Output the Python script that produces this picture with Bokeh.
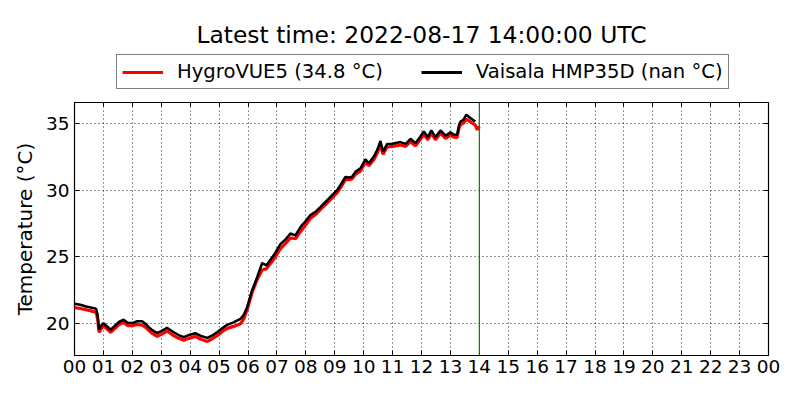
from bokeh.plotting import figure
from bokeh.layouts import column
from bokeh.models import Range1d, FixedTicker, LinearAxis, Span, Legend, LegendItem, Label
from bokeh.embed import file_html
from bokeh.resources import INLINE

# HygroVUE5 (red) - hours since 00 UTC, temperature in degC
hours_red = [0.0, 0.2, 0.4, 0.6, 0.75, 0.8, 0.85, 0.9, 1.0, 1.1, 1.25, 1.4, 1.55, 1.7, 1.85,
             2.0, 2.17, 2.34, 2.45, 2.57, 2.7, 2.86, 3.0, 3.2, 3.3, 3.43, 3.6, 3.78, 3.95,
             4.18, 4.35, 4.59, 4.75, 4.93, 5.1, 5.28, 5.5, 5.74, 5.85, 5.97, 6.14, 6.32,
             6.49, 6.64, 6.89, 7.12, 7.3, 7.47, 7.64, 7.82, 8.0, 8.16, 8.35, 8.51, 8.74,
             9.08, 9.2, 9.37, 9.5, 9.6, 9.72, 9.89, 10.06, 10.18, 10.35, 10.47, 10.58,
             10.67, 10.81, 11.0, 11.27, 11.45, 11.62, 11.79, 11.95, 12.08, 12.22, 12.34,
             12.48, 12.66, 12.83, 13.0, 13.1, 13.23, 13.3, 13.35, 13.45, 13.55, 13.69,
             13.86, 13.93, 14.0]
temp_red = [21.16, 21.1, 21.0, 20.9, 20.8, 20.3, 19.3, 19.5, 19.8, 19.6, 19.3, 19.6, 19.9,
            20.05, 19.8, 19.8, 19.9, 19.85, 19.7, 19.45, 19.2, 19.0, 19.15, 19.4, 19.25,
            19.05, 18.85, 18.7, 18.85, 19.0, 18.8, 18.62, 18.8, 19.05, 19.35, 19.6, 19.75,
            19.95, 20.3, 21.0, 22.3, 23.3, 24.0, 24.1, 24.8, 25.6, 26.0, 26.4, 26.35, 26.9,
            27.4, 27.9, 28.2, 28.55, 29.05, 29.8, 30.2, 30.8, 30.8, 30.85, 31.2, 31.45,
            32.1, 31.85, 32.3, 32.8, 33.4, 32.7, 33.25, 33.3, 33.4, 33.3, 33.65, 33.35,
            33.8, 34.2, 33.8, 34.3, 33.8, 34.3, 33.9, 34.15, 34.0, 33.95, 34.7, 34.95,
            35.05, 35.35, 35.15, 34.9, 34.55, 34.8]

# Vaisala HMP35D (black)
hours_black = [0.0, 0.2, 0.4, 0.6, 0.75, 0.8, 0.85, 0.9, 1.0, 1.1, 1.25, 1.4, 1.55, 1.7,
               1.85, 2.0, 2.17, 2.34, 2.45, 2.57, 2.7, 2.86, 3.0, 3.2, 3.3, 3.43, 3.6, 3.78,
               3.95, 4.18, 4.35, 4.59, 4.75, 4.93, 5.1, 5.28, 5.5, 5.74, 5.85, 5.97, 6.14,
               6.32, 6.49, 6.64, 6.89, 7.12, 7.3, 7.47, 7.64, 7.82, 8.0, 8.16, 8.35, 8.51,
               8.74, 9.08, 9.2, 9.37, 9.5, 9.6, 9.72, 9.89, 10.06, 10.18, 10.35, 10.47,
               10.58, 10.67, 10.81, 11.0, 11.27, 11.45, 11.62, 11.79, 11.95, 12.08, 12.22,
               12.34, 12.48, 12.66, 12.83, 13.0, 13.1, 13.23, 13.3, 13.35, 13.45, 13.55,
               13.69, 13.86]
temp_black = [21.46, 21.38, 21.25, 21.15, 21.08, 20.6, 19.5, 19.75, 20.0, 19.8, 19.5, 19.8,
              20.1, 20.25, 20.0, 20.0, 20.14, 20.14, 19.95, 19.7, 19.45, 19.24, 19.4, 19.64,
              19.5, 19.31, 19.1, 18.94, 19.1, 19.24, 19.05, 18.89, 19.05, 19.31, 19.6,
              19.87, 20.05, 20.32, 20.6, 21.2, 22.46, 23.47, 24.52, 24.35, 25.1, 25.94,
              26.3, 26.74, 26.6, 27.24, 27.7, 28.13, 28.4, 28.75, 29.26, 30.0, 30.39, 31.0,
              30.95, 31.02, 31.4, 31.65, 32.33, 32.03, 32.53, 33.04, 33.7, 32.9, 33.47,
              33.5, 33.62, 33.49, 33.87, 33.54, 34.0, 34.42, 34.0, 34.5, 34.0, 34.5, 34.1,
              34.35, 34.2, 34.17, 34.9, 35.17, 35.3, 35.68, 35.43, 35.17]

x_ticks = [0, 1, 2, 3, 4, 5, 6, 7, 8, 9, 10, 11, 12, 13, 14, 15, 16, 17, 18, 19, 20,
           21, 22, 23, 24]
x_tick_labels = ["00", "01", "02", "03", "04", "05", "06", "07", "08", "09", "10", "11",
                 "12", "13", "14", "15", "16", "17", "18", "19", "20", "21", "22", "23",
                 "00"]
y_ticks = [20, 25, 30, 35]
latest_hour = 14
title_text = "Latest time: 2022-08-17 14:00:00 UTC"
label_red = "HygroVUE5 (34.8 °C)"
label_black = "Vaisala HMP35D (nan °C)"

FONT = "DejaVu Sans"
RED = "#ff0000"

# ---------------- header: title + legend (frame aligned with main plot frame) --------
top = figure(width=800, height=94, x_range=Range1d(0, 1), y_range=Range1d(0, 1),
             output_backend="svg", toolbar_location=None, min_border=0)
top.axis.visible = False
top.grid.visible = False
top.outline_line_color = None
top.background_fill_color = "white"
top.border_fill_color = "white"

top.add_layout(Label(x=347, y=60, x_units="screen", y_units="screen", text=title_text,
                     text_font=FONT, text_font_size="23.4px", text_color="black",
                     text_align="center", text_baseline="middle"))

# legend-only renderers (placed outside the visible range)
lr = top.line([-2, -1], [-2, -2], line_color=RED, line_width=3)
lb = top.line([-2, -1], [-2, -2], line_color="black", line_width=3)
legend = Legend(items=[LegendItem(label=label_red, renderers=[lr]),
                       LegendItem(label=label_black, renderers=[lb])],
                orientation="horizontal", location=(42, 5),
                label_text_font=FONT, label_text_font_size="19.6px", label_text_color="black",
                border_line_color="black", border_line_width=1.2,
                padding=5, spacing=38, margin=0, label_standoff=14,
                glyph_width=41, glyph_height=20, label_height=20,
                background_fill_color="white")
top.add_layout(legend, "center")

# ---------------- main plot ----------------
p = figure(width=800, height=306, x_range=Range1d(0, 24), y_range=Range1d(17.56, 36.6),
           output_backend="svg", toolbar_location=None,
           min_border_left=74, min_border_right=32, min_border_bottom=45, min_border_top=8)

p.background_fill_color = "white"
p.border_fill_color = "white"
p.outline_line_color = "black"
p.outline_line_width = 1.2

r_red = p.line(hours_red, temp_red, line_color=RED, line_width=3.2)
r_black = p.line(hours_black, temp_black, line_color="black", line_width=2.5)

p.add_layout(Span(location=latest_hour, dimension="height", line_color="#008000",
                  line_width=1.2))

for ax in (p.xaxis[0], p.yaxis[0]):
    ax.axis_line_color = None
    ax.major_tick_in = 5
    ax.major_tick_out = 0
    ax.minor_tick_line_color = None
    ax.major_tick_line_color = "black"
    ax.major_label_text_font = FONT
    ax.major_label_text_font_size = "18.5px"
    ax.major_label_text_color = "black"
    ax.major_label_standoff = 5

p.xaxis.major_label_standoff = 4
p.xaxis.ticker = FixedTicker(ticks=x_ticks)
p.xaxis.major_label_overrides = {t: l for t, l in zip(x_ticks, x_tick_labels)}
p.yaxis.ticker = FixedTicker(ticks=y_ticks)
p.yaxis.axis_label = "Temperature (°C)"
p.yaxis.axis_label_text_font = FONT
p.yaxis.axis_label_text_font_size = "20px"
p.yaxis.axis_label_text_font_style = "normal"
p.yaxis.axis_label_text_color = "black"
p.yaxis.axis_label_standoff = 6

# tick-only axes on the right and top (classic style)
right_ax = LinearAxis(ticker=FixedTicker(ticks=y_ticks), axis_line_color=None,
                      major_tick_in=5, major_tick_out=0, minor_tick_line_color=None,
                      major_label_overrides={t: "" for t in y_ticks}, major_label_standoff=0)
p.add_layout(right_ax, "right")
top_ax = LinearAxis(ticker=FixedTicker(ticks=x_ticks), axis_line_color=None,
                    major_tick_in=4, major_tick_out=0, minor_tick_line_color=None,
                    major_label_overrides={t: "" for t in x_ticks}, major_label_standoff=0)
p.add_layout(top_ax, "above")

p.xgrid.ticker = FixedTicker(ticks=x_ticks)
p.ygrid.ticker = FixedTicker(ticks=y_ticks)
p.grid.grid_line_color = "black"
p.grid.grid_line_dash = "1 3"
p.grid.grid_line_width = 1
p.grid.grid_line_alpha = 0.85

layout = column(top, p, spacing=0)
open("out.html", "w").write(file_html(layout, INLINE))
